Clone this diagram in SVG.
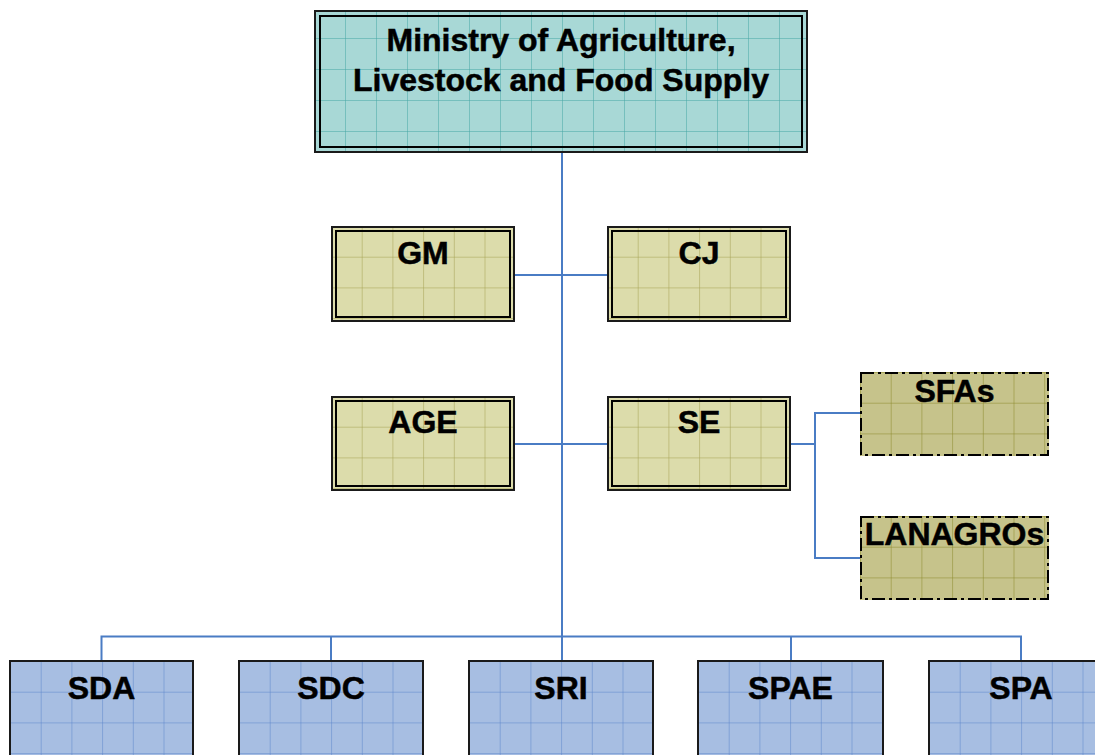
<svg xmlns="http://www.w3.org/2000/svg" width="1095" height="755" viewBox="0 0 1095 755">
<style>
.lbl{font-family:"Liberation Sans",Arial,sans-serif;font-weight:bold;font-size:32px;fill:#000;stroke:#000;stroke-width:0.5;text-anchor:middle}
.conn{fill:none;stroke:#4a7cc4;stroke-width:2}
.outer{fill:none;stroke:#1a1a1a;stroke-width:2}
.inner{fill:none;stroke:#000;stroke-width:2}
.dash{fill:none;stroke:#000;stroke-width:2;stroke-dasharray:13 4 3 4}
</style>
<defs>
<pattern id="pTeal" patternUnits="userSpaceOnUse" width="31" height="31" x="0" y="-3">
<rect width="31" height="31" fill="#a8d8d6"/>
<path d="M0 0V31M0 0H31" stroke="#45a6a4" stroke-width="1" fill="none"/>
</pattern>
<pattern id="pKhaki" patternUnits="userSpaceOnUse" width="30.7" height="30.7">
<rect width="30.7" height="30.7" fill="#dcdcab"/>
<path d="M0 0V30.7M0 0H30.7" stroke="#a3a050" stroke-width="1" fill="none"/>
</pattern>
<pattern id="pOlive" patternUnits="userSpaceOnUse" width="30.7" height="30.7">
<rect width="30.7" height="30.7" fill="#c6c38b"/>
<path d="M0 0V30.7M0 0H30.7" stroke="#8a8728" stroke-width="1" fill="none"/>
</pattern>
<pattern id="pBlue" patternUnits="userSpaceOnUse" width="30.7" height="30.7">
<rect width="30.7" height="30.7" fill="#a7bee2"/>
<path d="M0 0V30.7M0 0H30.7" stroke="#5a84cb" stroke-width="1" fill="none"/>
</pattern>
</defs>

<g id="connectors">
<path class="conn" d="M562 153V636"/>
<path class="conn" d="M515 275H607"/>
<path class="conn" d="M515 444H607"/>
<path class="conn" d="M791 444H815"/>
<path class="conn" d="M860 413H815V558H860"/>
<path class="conn" d="M101.5 661V636.5H1021V661"/>
<path class="conn" d="M331 636.5V661"/>
<path class="conn" d="M562 636V661"/>
<path class="conn" d="M791 636.5V661"/>
</g>

<g id="ministry" transform="translate(314,10)">
<rect width="494" height="143" fill="url(#pTeal)"/>
<rect class="outer" x="1" y="1" width="492" height="141"/>
<rect class="inner" x="6" y="6" width="482" height="131"/>
<text class="lbl" x="247" y="41">Ministry of Agriculture,</text>
<text class="lbl" x="247" y="81">Livestock and Food Supply</text>
</g>

<g id="gm" transform="translate(331,226)">
<rect width="184" height="96" fill="url(#pKhaki)"/>
<rect class="outer" x="1" y="1" width="182" height="94"/>
<rect class="inner" x="5" y="5" width="174" height="86"/>
<text class="lbl" x="92" y="38">GM</text>
</g>

<g id="cj" transform="translate(607,226)">
<rect width="184" height="96" fill="url(#pKhaki)"/>
<rect class="outer" x="1" y="1" width="182" height="94"/>
<rect class="inner" x="5" y="5" width="174" height="86"/>
<text class="lbl" x="92" y="38">CJ</text>
</g>

<g id="age" transform="translate(331,396)">
<rect width="184" height="95" fill="url(#pKhaki)"/>
<rect class="outer" x="1" y="1" width="182" height="93"/>
<rect class="inner" x="5" y="5" width="174" height="85"/>
<text class="lbl" x="92" y="37">AGE</text>
</g>

<g id="se" transform="translate(607,396)">
<rect width="184" height="95" fill="url(#pKhaki)"/>
<rect class="outer" x="1" y="1" width="182" height="93"/>
<rect class="inner" x="5" y="5" width="174" height="85"/>
<text class="lbl" x="92" y="37">SE</text>
</g>

<g id="sfas" transform="translate(860,372)">
<rect width="189" height="84" fill="url(#pOlive)"/>
<rect class="dash" x="1" y="1" width="187" height="82"/>
<text class="lbl" x="94.5" y="30">SFAs</text>
</g>

<g id="lanagros" transform="translate(860,516)">
<rect width="189" height="84" fill="url(#pOlive)"/>
<rect class="dash" x="1" y="1" width="187" height="82"/>
<text class="lbl" x="94.5" y="29">LANAGROs</text>
</g>

<g id="sda" transform="translate(10,661)">
<rect width="183" height="120" fill="url(#pBlue)"/>
<rect class="outer" x="0" y="0" width="183" height="120" stroke="#000"/>
<text class="lbl" x="91.5" y="38">SDA</text>
</g>

<g id="sdc" transform="translate(239,661)">
<rect width="184" height="120" fill="url(#pBlue)"/>
<rect class="outer" x="0" y="0" width="184" height="120" stroke="#000"/>
<text class="lbl" x="92" y="38">SDC</text>
</g>

<g id="sri" transform="translate(469,661)">
<rect width="184" height="120" fill="url(#pBlue)"/>
<rect class="outer" x="0" y="0" width="184" height="120" stroke="#000"/>
<text class="lbl" x="92" y="38">SRI</text>
</g>

<g id="spae" transform="translate(698,661)">
<rect width="185" height="120" fill="url(#pBlue)"/>
<rect class="outer" x="0" y="0" width="185" height="120" stroke="#000"/>
<text class="lbl" x="92.5" y="38">SPAE</text>
</g>

<g id="spa" transform="translate(929,661)">
<rect width="200" height="120" fill="url(#pBlue)"/>
<rect class="outer" x="0" y="0" width="200" height="120" stroke="#000"/>
<text class="lbl" x="92" y="38">SPA</text>
</g>
</svg>
